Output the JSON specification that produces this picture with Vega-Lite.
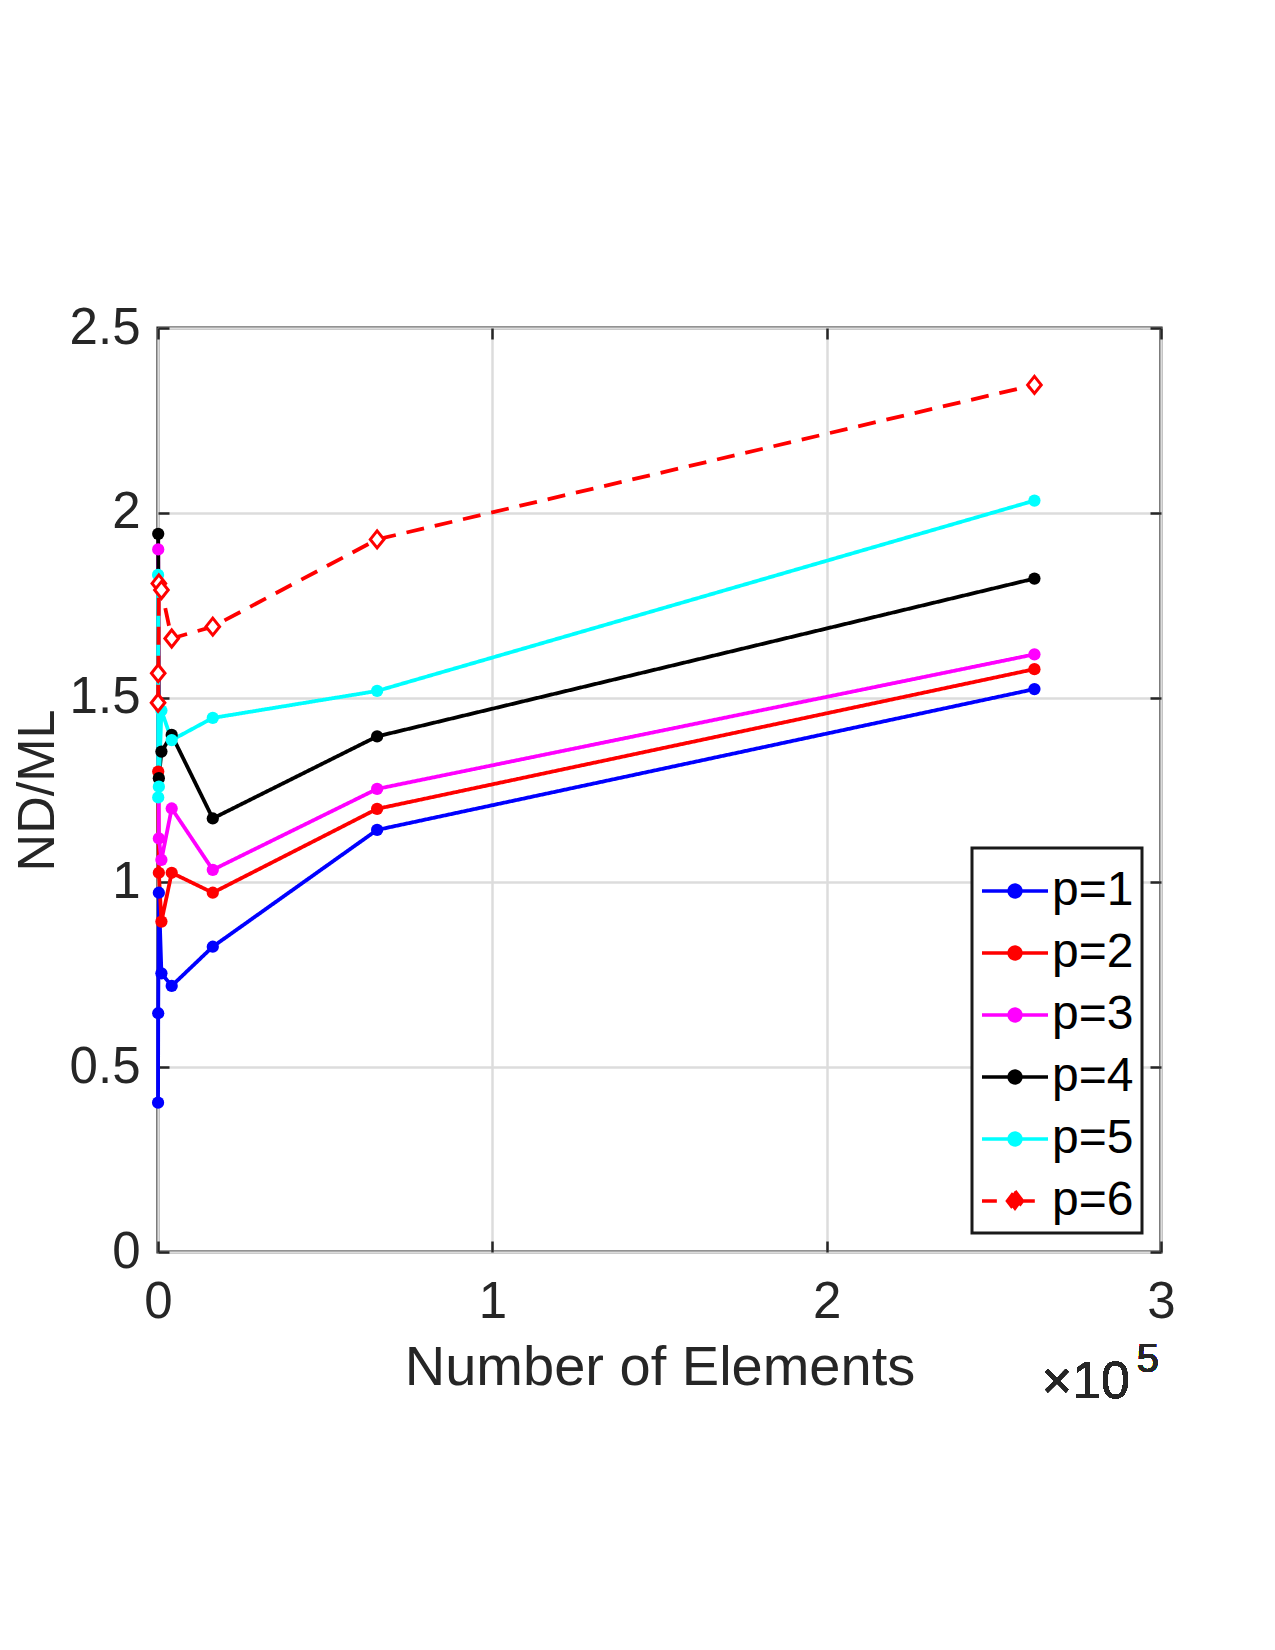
{
  "$schema": "https://vega.github.io/schema/vega-lite/v6.json",
  "autosize": {"type": "none"},
  "padding": {"left": 158, "top": 328, "right": 114, "bottom": 398},
  "width": 1003,
  "height": 924,
  "background": "white",
  "config": {
    "font": "Liberation Sans",
    "view": {"stroke": "#262626", "strokeWidth": 3.2}
  },
  "data": {
    "values": [
      {"series": "p=1", "x": 16, "y": 0.404},
      {"series": "p=1", "x": 64, "y": 0.646},
      {"series": "p=1", "x": 256, "y": 0.972},
      {"series": "p=1", "x": 1024, "y": 0.754},
      {"series": "p=1", "x": 4096, "y": 0.720},
      {"series": "p=1", "x": 16384, "y": 0.826},
      {"series": "p=1", "x": 65536, "y": 1.142},
      {"series": "p=1", "x": 262144, "y": 1.523},
      {"series": "p=2", "x": 64, "y": 1.300},
      {"series": "p=2", "x": 256, "y": 1.026},
      {"series": "p=2", "x": 1024, "y": 0.894},
      {"series": "p=2", "x": 4096, "y": 1.026},
      {"series": "p=2", "x": 16384, "y": 0.972},
      {"series": "p=2", "x": 65536, "y": 1.199},
      {"series": "p=2", "x": 262144, "y": 1.577},
      {"series": "p=3", "x": 64, "y": 1.901},
      {"series": "p=3", "x": 256, "y": 1.119},
      {"series": "p=3", "x": 1024, "y": 1.061},
      {"series": "p=3", "x": 4096, "y": 1.200},
      {"series": "p=3", "x": 16384, "y": 1.034},
      {"series": "p=3", "x": 65536, "y": 1.253},
      {"series": "p=3", "x": 262144, "y": 1.617},
      {"series": "p=4", "x": 64, "y": 1.943},
      {"series": "p=4", "x": 256, "y": 1.282},
      {"series": "p=4", "x": 1024, "y": 1.354},
      {"series": "p=4", "x": 4096, "y": 1.399},
      {"series": "p=4", "x": 16384, "y": 1.173},
      {"series": "p=4", "x": 65536, "y": 1.395},
      {"series": "p=4", "x": 262144, "y": 1.822},
      {"series": "p=5", "x": 16, "y": 1.832},
      {"series": "p=5", "x": 64, "y": 1.230},
      {"series": "p=5", "x": 256, "y": 1.259},
      {"series": "p=5", "x": 1024, "y": 1.465},
      {"series": "p=5", "x": 4096, "y": 1.385},
      {"series": "p=5", "x": 16384, "y": 1.445},
      {"series": "p=5", "x": 65536, "y": 1.518},
      {"series": "p=5", "x": 262144, "y": 2.033},
      {"series": "p=6", "x": 16, "y": 1.486},
      {"series": "p=6", "x": 64, "y": 1.566},
      {"series": "p=6", "x": 256, "y": 1.809},
      {"series": "p=6", "x": 1024, "y": 1.791},
      {"series": "p=6", "x": 4096, "y": 1.660},
      {"series": "p=6", "x": 16384, "y": 1.692},
      {"series": "p=6", "x": 65536, "y": 1.928},
      {"series": "p=6", "x": 262144, "y": 2.346}
    ]
  },
  "resolve": {"axis": {"x": "independent", "y": "independent"}},
  "layer": [
    {
      "mark": {"type": "line", "strokeWidth": 3.8},
      "encoding": {
        "x": {
          "field": "x", "type": "quantitative",
          "scale": {"domain": [0, 300000], "nice": false, "zero": false},
          "axis": {
            "orient": "bottom",
            "values": [0, 100000, 200000, 300000],
            "labelExpr": "'' + datum.value / 100000",
            "grid": true, "gridColor": "#dcdcdc", "gridWidth": 2.5,
            "domain": false,
            "ticks": true, "tickSize": -11, "tickColor": "#262626", "tickWidth": 2.5,
            "labelFont": "Liberation Sans", "labelFontSize": 51, "labelColor": "#262626",
            "labelPadding": 36, "labelFlush": false, "labelOverlap": false,
            "title": "Number of Elements",
            "titleFont": "Liberation Sans", "titleFontSize": 56, "titleFontWeight": "normal",
            "titleColor": "#262626", "titleBaseline": "alphabetic", "titleY": 132
          }
        },
        "y": {
          "field": "y", "type": "quantitative",
          "scale": {"domain": [0, 2.5], "nice": false, "zero": false},
          "axis": {
            "orient": "left",
            "values": [0, 0.5, 1, 1.5, 2, 2.5],
            "labelExpr": "'' + datum.value",
            "grid": true, "gridColor": "#dcdcdc", "gridWidth": 2.5,
            "domain": false,
            "ticks": true, "tickSize": -11, "tickColor": "#262626", "tickWidth": 2.5,
            "labelFont": "Liberation Sans", "labelFontSize": 51, "labelColor": "#262626",
            "labelPadding": 29, "labelFlush": false, "labelOverlap": false,
            "title": "ND/ML",
            "titleFont": "Liberation Sans", "titleFontSize": 52, "titleFontWeight": "normal",
            "titleColor": "#262626", "titleBaseline": "alphabetic", "titleAngle": 270,
            "titleX": -105, "titleY": 462, "titleAlign": "center"
          }
        },
        "color": {
          "field": "series", "type": "nominal",
          "scale": {
            "domain": ["p=1", "p=2", "p=3", "p=4", "p=5", "p=6"],
            "range": ["#0000ff", "#ff0000", "#ff00ff", "#000000", "#00ffff", "#ff0000"]
          },
          "legend": {
            "orient": "bottom-right", "offset": 19, "title": null,
            "labelFont": "Liberation Sans", "labelFontSize": 48, "labelColor": "#000000",
            "strokeColor": "#1a1a1a", "fillColor": "white",
            "padding": 8, "symbolSize": 4356, "symbolStrokeWidth": 3.4,
            "rowPadding": 3, "labelOffset": 2, "symbolOffset": 0,
            "encode": {
              "legend": {"update": {"strokeWidth": {"value": 3}}},
              "symbols": {
                "update": {
                  "shape": {"signal": "datum.value === 'p=6' ? 'M-1,0H-0.55M0.26,0H0.6M0,-0.3L0.23,0L0,0.3L-0.23,0Z' : 'M-1,0H1M0.18,0A0.18,0.18 0 1,1 -0.18,0A0.18,0.18 0 1,1 0.18,0Z'"},
                  "fill": {"signal": "datum.value === 'p=6' ? 'white' : scale('color', datum.value)"},
                  "stroke": {"signal": "scale('color', datum.value)"},
                  "strokeDash": {"value": [1, 0]},
                  "opacity": {"value": 1}
                }
              }
            }
          }
        },
        "strokeDash": {
          "field": "series", "type": "nominal",
          "scale": {
            "domain": ["p=1", "p=2", "p=3", "p=4", "p=5", "p=6"],
            "range": [[1, 0], [1, 0], [1, 0], [1, 0], [1, 0], [18, 11]]
          },
          "legend": null
        }
      }
    },
    {
      "transform": [{"filter": "datum.series !== 'p=6'"}],
      "mark": {"type": "point", "shape": "circle", "filled": true, "size": 150, "opacity": 1},
      "encoding": {
        "x": {
          "field": "x", "type": "quantitative",
          "axis": {
            "orient": "top", "values": [0, 100000, 200000, 300000],
            "labels": false, "title": null, "grid": false, "domain": false,
            "ticks": true, "tickSize": -11, "tickColor": "#262626", "tickWidth": 2.5
          }
        },
        "y": {
          "field": "y", "type": "quantitative",
          "axis": {
            "orient": "right", "values": [0, 0.5, 1, 1.5, 2, 2.5],
            "labels": false, "title": null, "grid": false, "domain": false,
            "ticks": true, "tickSize": -11, "tickColor": "#262626", "tickWidth": 2.5
          }
        },
        "color": {"field": "series", "type": "nominal", "legend": null}
      }
    },
    {
      "transform": [{"filter": "datum.series === 'p=6'"}],
      "mark": {
        "type": "point", "shape": "M0,-1L0.8,0L0,1L-0.8,0Z", "filled": true,
        "fill": "white", "stroke": "#ff0000", "strokeWidth": 3, "size": 290, "opacity": 1
      },
      "encoding": {
        "x": {"field": "x", "type": "quantitative", "axis": null},
        "y": {"field": "y", "type": "quantitative", "axis": null}
      }
    },
    {
      "mark": {
        "type": "text", "text": "×10", "align": "right", "baseline": "alphabetic",
        "dx": -31, "dy": 146, "fontSize": 52, "font": "Liberation Sans", "color": "#262626"
      },
      "encoding": {
        "x": {"datum": 300000, "type": "quantitative", "axis": null},
        "y": {"datum": 0, "type": "quantitative", "axis": null}
      }
    },
    {
      "mark": {
        "type": "text", "text": "5", "align": "right", "baseline": "alphabetic",
        "dx": -2, "dy": 120, "fontSize": 40, "font": "Liberation Sans", "color": "#262626"
      },
      "encoding": {
        "x": {"datum": 300000, "type": "quantitative", "axis": null},
        "y": {"datum": 0, "type": "quantitative", "axis": null}
      }
    }
  ]
}
